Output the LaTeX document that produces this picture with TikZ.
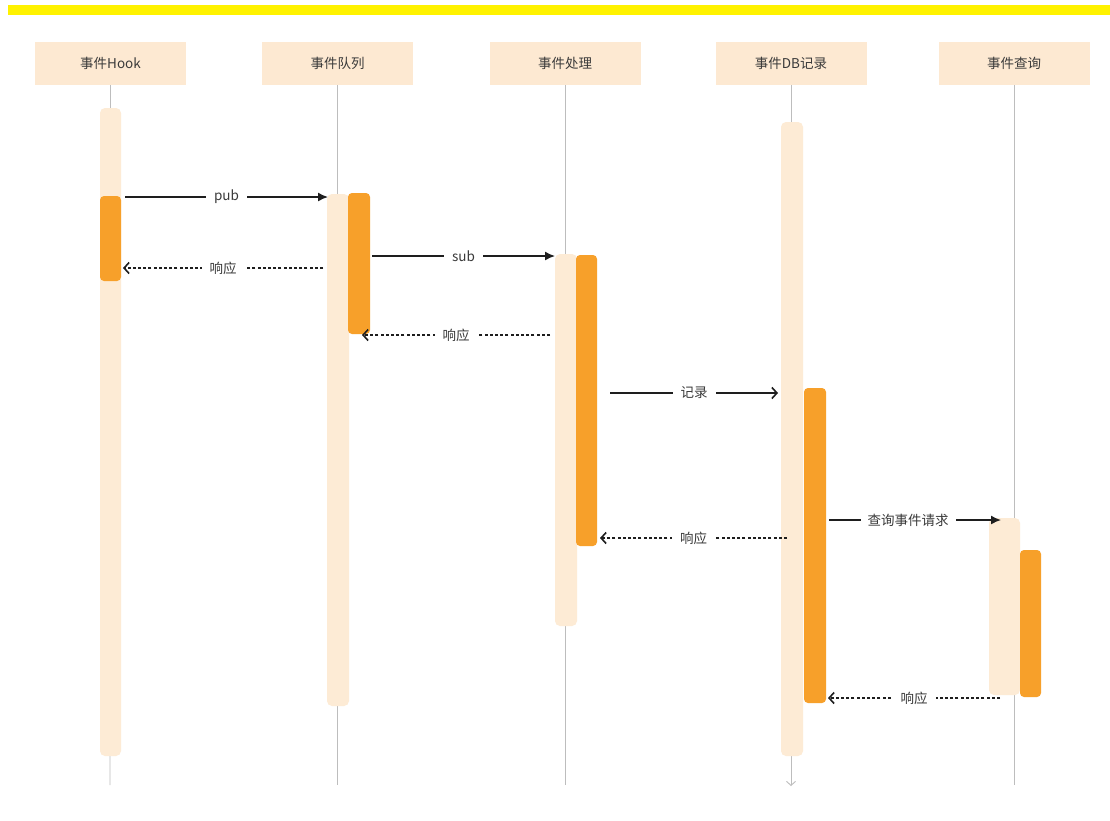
\documentclass[tikz,border=0pt]{standalone}
\usepackage{fontspec}
\setmainfont{Noto Sans CJK SC}
\usetikzlibrary{arrows.meta}
\definecolor{hdr}{HTML}{FDE9D2}
\definecolor{lite}{HTML}{FDEBD5}
\definecolor{dark}{HTML}{F7A02A}
\definecolor{lifec}{HTML}{BDBDBD}
\definecolor{txt}{HTML}{3A3A3A}
\definecolor{ink}{HTML}{1E1E1E}
\tikzset{
  hdrbox/.style={fill=hdr, minimum width=151pt, minimum height=43pt, inner sep=0pt, font=\fontsize{13.5}{15}\selectfont, text=txt},
  life/.style={draw=lifec, line width=0.9pt},
  litebar/.style={fill=lite, rounded corners=5pt},
  darkbar/.style={fill=dark, rounded corners=4pt},
  msg/.style={draw=ink, line width=1.5pt, -{Latex[length=10pt,width=9pt]}},
  msgopen/.style={draw=ink, line width=1.5pt, -{Straight Barb[length=5pt,width=11pt,line width=1.6pt]}},
  ret/.style={draw=ink, line width=1.5pt, dash pattern=on 3pt off 2.2pt, -{Straight Barb[length=5pt,width=11pt,line width=1.6pt]}},
  lbl/.style={fill=white, inner xsep=8pt, inner ysep=2pt, font=\fontsize{13.5}{15}\selectfont, text=txt}
}
\begin{document}
\begin{tikzpicture}[x=1pt,y=-1pt]
\useasboundingbox (0,0) rectangle (1110,820);
\fill[white] (0,0) rectangle (1110,820);
\fill[yellow] (8,5) rectangle (1110,15);

% headers
\node[hdrbox] (h1) at (110.5,63.5) {事件Hook};
\node[hdrbox] (h2) at (337.5,63.5) {事件队列};
\node[hdrbox] (h3) at (565,63.5) {事件处理};
\node[hdrbox] (h4) at (791,63.5) {事件DB记录};
\node[hdrbox] (h5) at (1014,63.5) {事件查询};

% lifeline ends
\coordinate (e1) at (110,785);
\coordinate (e2) at (337.5,785);
\coordinate (e3) at (565,785);
\coordinate (e4) at (791,786);
\coordinate (e5) at (1014,785);
\draw[life] (h1.south) -- (e1);
\draw[life] (h2.south) -- (e2);
\draw[life] (h3.south) -- (e3);
\draw[life, -{Straight Barb[length=4pt,width=9pt,line width=0.9pt]}] (h4.south) -- (e4);
\draw[life] (h5.south) -- (e5);

% activation backgrounds
\fill[litebar] (100,108) rectangle (121,756);
\fill[litebar] (327,194) rectangle (349,706);
\fill[litebar] (555,254) rectangle (577,626);
\fill[litebar] (781,122) rectangle (803,756);
\fill[litebar] (989,518) rectangle (1020,695);

% active bars
\fill[darkbar] (100,196) rectangle (121,281);
\fill[darkbar] (348,193) rectangle (370,334);
\fill[darkbar] (576,255) rectangle (597,546);
\fill[darkbar] (804,388) rectangle (826,703);
\fill[darkbar] (1020,550) rectangle (1041,697);

% message endpoints
\coordinate (p1a) at (125,197);   \coordinate (p1b) at (328,197);
\coordinate (r1a) at (323,268);   \coordinate (r1b) at (123,268);
\coordinate (p2a) at (372,256);   \coordinate (p2b) at (555,256);
\coordinate (r2a) at (550,335);   \coordinate (r2b) at (362,335);
\coordinate (p3a) at (610,393);   \coordinate (p3b) at (778,393);
\coordinate (r3a) at (787,538);   \coordinate (r3b) at (600,538);
\coordinate (p4a) at (829,520);   \coordinate (p4b) at (1001,520);
\coordinate (r4a) at (1000,698);  \coordinate (r4b) at (828,698);

\draw[msg] (p1a) -- node[lbl] (l1) {pub} (p1b);
\draw[ret] (r1a) -- node[lbl] (l2) {响应} (r1b);
\draw[msg] (p2a) -- node[lbl] (l3) {sub} (p2b);
\draw[ret] (r2a) -- node[lbl] (l4) {响应} (r2b);
\draw[msgopen] (p3a) -- node[lbl] (l5) {记录} (p3b);
\draw[ret] (r3a) -- node[lbl] (l6) {响应} (r3b);
\draw[msg] (p4a) -- node[lbl, pos=0.46, inner xsep=7pt] (l7) {查询事件请求} (p4b);
\draw[ret] (r4a) -- node[lbl] (l8) {响应} (r4b);
\end{tikzpicture}
\end{document}
